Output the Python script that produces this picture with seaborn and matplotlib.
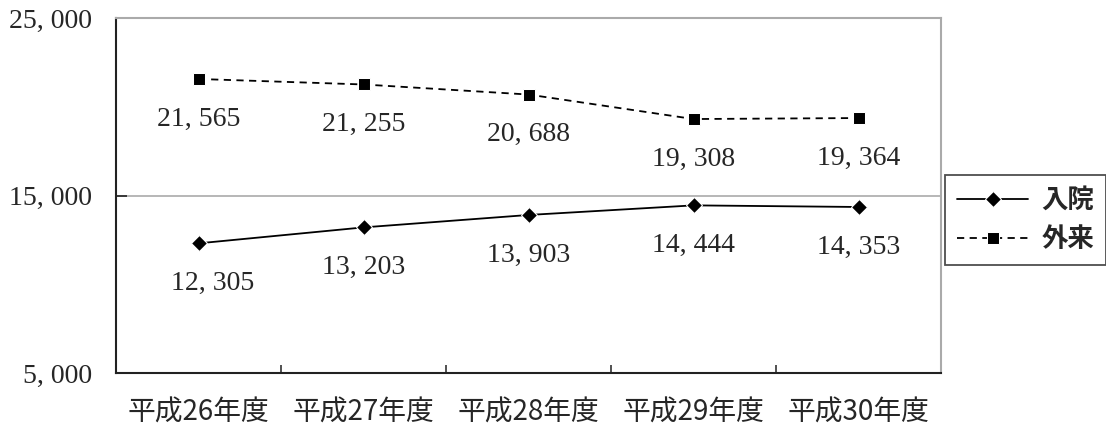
import matplotlib
matplotlib.use("Agg")
import matplotlib.pyplot as plt
import seaborn as sns
import pandas as pd
from matplotlib.ticker import FixedLocator

sns.set_theme(style="white")
plt.rcParams["font.family"] = ["Liberation Serif", "Noto Sans CJK JP"]

years = ["平成26年度", "平成27年度", "平成28年度", "平成29年度", "平成30年度"]
inpatient = [12305, 13203, 13903, 14444, 14353]
outpatient = [21565, 21255, 20688, 19308, 19364]
y_ticks = [5000, 15000, 25000]

df = pd.DataFrame({
    "x": list(range(len(years))) * 2,
    "value": inpatient + outpatient,
    "kind": ["入院"] * len(years) + ["外来"] * len(years),
})

fig = plt.figure(figsize=(11.06, 4.30), dpi=100)
ax = fig.add_axes([116 / 1106, 1 - 373 / 430, (941 - 116) / 1106, (373 - 18) / 430])

sns.lineplot(data=df[df.kind == "入院"], x="x", y="value", ax=ax, color="black",
             marker="D", markersize=8, linewidth=1.3, label="入院")
sns.lineplot(data=df[df.kind == "外来"], x="x", y="value", ax=ax, color="black",
             marker="s", markersize=9, linewidth=1.3, linestyle=(0, (4, 3)), label="外来")

ax.set_xlim(-0.5, len(years) - 0.5)
ax.set_ylim(y_ticks[0], y_ticks[-1])
ax.set_xlabel("")
ax.set_ylabel("")

# category boundaries carry the x ticks
ax.xaxis.set_major_locator(FixedLocator([i + 0.5 for i in range(len(years))]))
ax.xaxis.set_minor_locator(FixedLocator(list(range(len(years)))))
ax.set_xticklabels([])
ax.set_xticklabels(years, minor=True, fontsize=20, family=["Noto Sans CJK JP"])
ax.tick_params(axis="x", which="major", direction="in", length=6, width=1.2, color="#333333", bottom=True)
ax.tick_params(axis="x", which="minor", length=0, pad=18)

ax.set_yticks(y_ticks)
ax.set_yticklabels([f"{v:,}".replace(",", ", ") for v in y_ticks], fontsize=20)
ax.tick_params(axis="y", direction="in", length=8, width=1.2, color="#222222", left=True, pad=17)

ax.axhline(15000, color="#aaaaaa", linewidth=1.2, zorder=0)

for s in ("left", "bottom"):
    ax.spines[s].set_color("#222222")
    ax.spines[s].set_linewidth(1.5)
for s in ("top", "right"):
    ax.spines[s].set_color("#aaaaaa")
    ax.spines[s].set_linewidth(1.5)

for i, v in enumerate(inpatient):
    ax.annotate(f"{v:,}".replace(",", ", "), (i, v), xytext=(10 if i == 0 else 0, -29),
                textcoords="offset points", ha="center", va="center", fontsize=20)
for i, v in enumerate(outpatient):
    ax.annotate(f"{v:,}".replace(",", ", "), (i, v), xytext=(0, -29),
                textcoords="offset points", ha="center", va="center", fontsize=20)

leg = ax.legend(loc="upper left", bbox_to_anchor=(945 / 1106, 1 - 175 / 430),
                bbox_transform=fig.transFigure, frameon=True, fancybox=False,
                borderaxespad=0, borderpad=0.45, handlelength=2.7, handletextpad=0.5,
                labelspacing=0.45,
                prop={"family": "Noto Sans CJK JP", "weight": "bold", "size": 19})
leg.get_frame().set_edgecolor("#222222")
leg.get_frame().set_linewidth(1.3)

fig.savefig("out.png", dpi=100, facecolor="white")
